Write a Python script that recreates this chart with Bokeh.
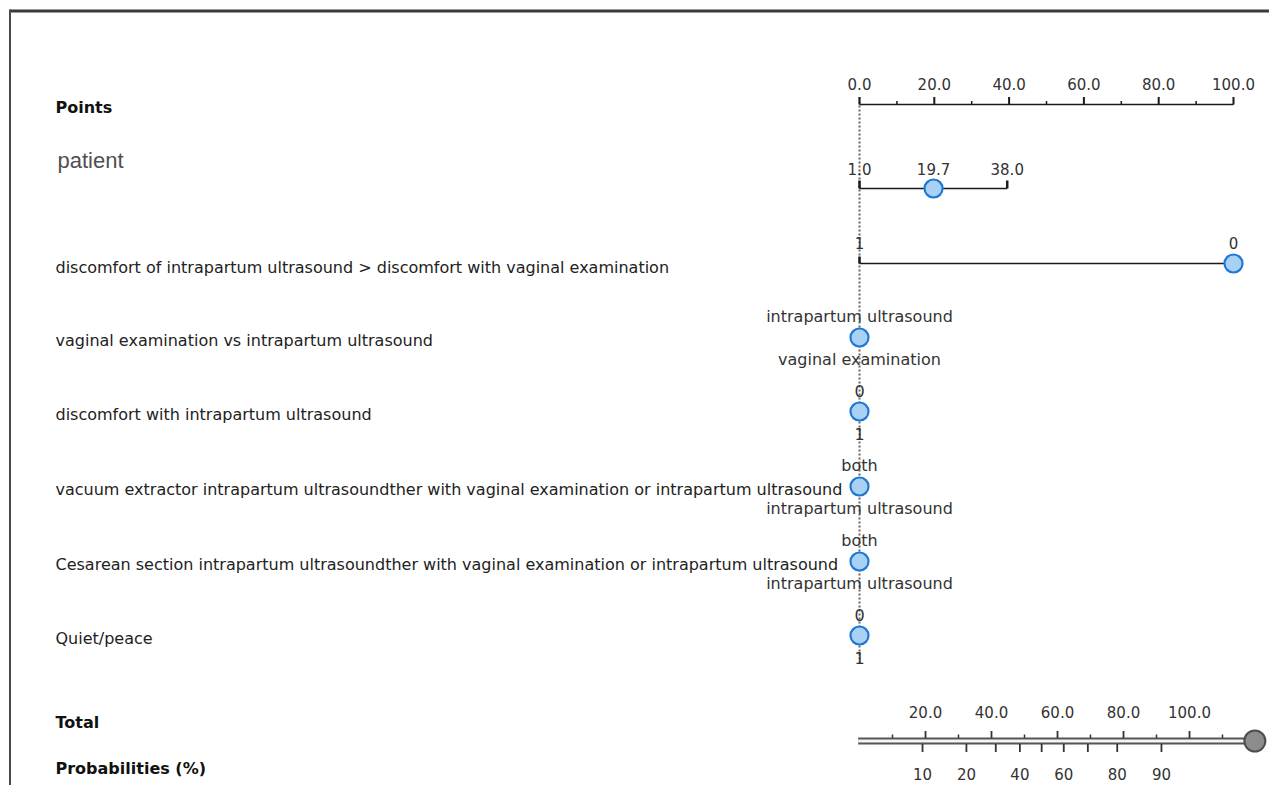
from bokeh.plotting import figure
from bokeh.models import Range1d
from bokeh.core.properties import value
from bokeh.embed import file_html
from bokeh.resources import INLINE

# ---------------- data ----------------
points_major = [0, 20, 40, 60, 80, 100]
points_major_labels = ["0.0", "20.0", "40.0", "60.0", "80.0", "100.0"]
points_minor = [10, 30, 50, 70, 90]

patient_name = "patient"
patient_tick_labels = ["1.0", "19.7", "38.0"]
patient_tick_points = [0.0, 19.8, 39.5]
patient_end_points = [0.0, 39.5]
patient_value_points = 19.8

disc_name = "discomfort of intrapartum ultrasound > discomfort with vaginal examination"
disc_levels = ["1", "0"]
disc_level_points = [0.0, 100.0]
disc_value_points = 100.0

cat_names = [
    "vaginal examination vs intrapartum ultrasound",
    "discomfort with intrapartum ultrasound",
    "vacuum extractor intrapartum ultrasoundther with vaginal examination or intrapartum ultrasound",
    "Cesarean section intrapartum ultrasoundther with vaginal examination or intrapartum ultrasound",
    "Quiet/peace",
]
cat_upper_labels = ["intrapartum ultrasound", "0", "both", "both", "0"]
cat_lower_labels = ["vaginal examination", "1", "intrapartum ultrasound", "intrapartum ultrasound", "1"]
cat_value_points = [0, 0, 0, 0, 0]

total_major = [20, 40, 60, 80, 100]
total_major_labels = ["20.0", "40.0", "60.0", "80.0", "100.0"]
total_minor = [10, 30, 50, 70, 90, 110]
prob_labels = ["10", "20", "", "40", "", "60", "", "80", "90"]
prob_total_points = [19.1, 32.4, 41.3, 48.6, 55.2, 61.9, 69.2, 78.1, 91.5]

# ---------------- layout ----------------
W, H = 1269, 785
X0 = 859.0          # px of 0 points
PX_PTS = 3.74       # px per point
PX_TOT = 3.3        # px per total point


def px(xpix):
    return (xpix - X0) / PX_PTS


Y_AXIS = 104
Y_PATIENT = 188
Y_DISC = 263
Y_CATS = [337, 411, 486, 561, 635]
Y_TOTAL = 740.5
LABEL_X = px(55)

FONT = value("DejaVu Sans")
LABEL_SIZE = "16px"
NUM_SIZE = "15px"
CIRCLE_FILL = "#a9d1f3"
CIRCLE_LINE = "#1f78d6"
CIRCLE_SIZE = 18

p = figure(width=W, height=H, output_backend="svg", toolbar_location=None,
           x_range=Range1d(px(0), px(W)), y_range=Range1d(H, 0),
           min_border=0, x_axis_location=None, y_axis_location=None,
           background_fill_color="white", border_fill_color="white",
           outline_line_color=None)
p.extra_x_ranges = {"total": Range1d(-X0 / PX_TOT, (W - X0) / PX_TOT)}
p.grid.visible = False

# frame border (top + left)
p.segment(x0=[px(9)], y0=[10.5], x1=[px(W)], y1=[10.5], line_color="#3a3a3a", line_width=3)
p.segment(x0=[px(9.5)], y0=[9], x1=[px(9.5)], y1=[H], line_color="#4a4a4a", line_width=2)

# vertical dotted reference line
p.segment(x0=[0], y0=[97], x1=[0], y1=[662], line_color="#666666", line_width=2, line_dash="2 2")

# ---- Points axis ----
p.segment(x0=[points_major[0]], y0=[Y_AXIS], x1=[points_major[-1]], y1=[Y_AXIS],
          line_color="#1a1a1a", line_width=1.6)
p.segment(x0=points_major, y0=[Y_AXIS] * len(points_major), x1=points_major,
          y1=[Y_AXIS - 7.5] * len(points_major), line_color="#1a1a1a", line_width=2)
p.segment(x0=points_minor, y0=[Y_AXIS] * len(points_minor), x1=points_minor,
          y1=[Y_AXIS - 3.5] * len(points_minor), line_color="#1a1a1a", line_width=1.5)
p.text(x=points_major, y=[Y_AXIS - 21] * len(points_major), text=points_major_labels,
       text_font=FONT, text_font_size=NUM_SIZE, text_color="#333333",
       text_align="center", text_baseline="middle")

# ---- left labels ----
p.text(x=[LABEL_X] * 3, y=[107, 722, 768], text=["Points", "Total", "Probabilities (%)"],
       text_font=FONT, text_font_size="16px", text_font_style="bold", text_color="#111111",
       text_align="left", text_baseline="middle")
p.text(x=[px(57)], y=[160], text=[patient_name], text_font=value("Liberation Sans"),
       text_font_size="22px", text_color="#505050", text_align="left", text_baseline="middle")
p.text(x=[LABEL_X] * (1 + len(cat_names)), y=[267] + [y + 3 for y in Y_CATS],
       text=[disc_name] + cat_names, text_font=FONT, text_font_size=LABEL_SIZE,
       text_color="#222222", text_align="left", text_baseline="middle")

# ---- patient row ----
p.segment(x0=[patient_end_points[0]], y0=[Y_PATIENT], x1=[patient_end_points[-1]], y1=[Y_PATIENT],
          line_color="#1a1a1a", line_width=1.6)
p.segment(x0=patient_end_points, y0=[Y_PATIENT] * 2, x1=patient_end_points, y1=[Y_PATIENT - 8] * 2,
          line_color="#1a1a1a", line_width=2.5)
p.text(x=patient_tick_points, y=[Y_PATIENT - 20] * 3, text=patient_tick_labels,
       text_font=FONT, text_font_size=NUM_SIZE, text_color="#333333",
       text_align="center", text_baseline="middle")
p.scatter(x=[patient_value_points], y=[Y_PATIENT], size=CIRCLE_SIZE, marker="circle",
          fill_color=CIRCLE_FILL, line_color=CIRCLE_LINE, line_width=2.2)

# ---- discomfort row ----
p.segment(x0=[disc_level_points[0]], y0=[Y_DISC], x1=[disc_level_points[-1]], y1=[Y_DISC],
          line_color="#1a1a1a", line_width=1.6)
p.segment(x0=[disc_level_points[0]], y0=[Y_DISC], x1=[disc_level_points[0]], y1=[Y_DISC - 7],
          line_color="#1a1a1a", line_width=2.5)
p.text(x=disc_level_points, y=[Y_DISC - 21] * 2, text=disc_levels,
       text_font=FONT, text_font_size=NUM_SIZE, text_color="#333333",
       text_align="center", text_baseline="middle")
p.scatter(x=[disc_value_points], y=[Y_DISC], size=CIRCLE_SIZE, marker="circle",
          fill_color=CIRCLE_FILL, line_color=CIRCLE_LINE, line_width=2.2)

# ---- categorical rows at zero points ----
p.text(x=cat_value_points, y=[y - 21 for y in Y_CATS], text=cat_upper_labels,
       text_font=FONT, text_font_size=LABEL_SIZE, text_color="#333333",
       text_align="center", text_baseline="middle")
p.text(x=cat_value_points, y=[y + 22 for y in Y_CATS], text=cat_lower_labels,
       text_font=FONT, text_font_size=LABEL_SIZE, text_color="#333333",
       text_align="center", text_baseline="middle")
p.scatter(x=cat_value_points, y=Y_CATS, size=CIRCLE_SIZE, marker="circle",
          fill_color=CIRCLE_FILL, line_color=CIRCLE_LINE, line_width=2.2)

# ---- total / probability axis ----
total_value = patient_value_points + disc_value_points + sum(cat_value_points)
p.segment(x0=[-0.4], y0=[Y_TOTAL], x1=[total_value], y1=[Y_TOTAL], x_range_name="total",
          line_color="#555555", line_width=7)
p.segment(x0=[-0.4], y0=[Y_TOTAL], x1=[total_value], y1=[Y_TOTAL], x_range_name="total",
          line_color="#f4f4f4", line_width=3)
p.segment(x0=total_major, y0=[Y_TOTAL - 3] * len(total_major), x1=total_major,
          y1=[Y_TOTAL - 10] * len(total_major), x_range_name="total",
          line_color="#333333", line_width=1.8)
p.segment(x0=total_minor, y0=[Y_TOTAL - 3] * len(total_minor), x1=total_minor,
          y1=[Y_TOTAL - 6.5] * len(total_minor), x_range_name="total",
          line_color="#333333", line_width=1.5)
p.text(x=total_major, y=[Y_TOTAL - 29] * len(total_major), text=total_major_labels,
       x_range_name="total", text_font=FONT, text_font_size=NUM_SIZE, text_color="#333333",
       text_align="center", text_baseline="middle")
p.segment(x0=prob_total_points, y0=[Y_TOTAL + 3] * len(prob_total_points), x1=prob_total_points,
          y1=[Y_TOTAL + 11] * len(prob_total_points), x_range_name="total",
          line_color="#333333", line_width=1.8)
p.text(x=prob_total_points, y=[Y_TOTAL + 33] * len(prob_total_points), text=prob_labels,
       x_range_name="total", text_font=FONT, text_font_size=NUM_SIZE, text_color="#333333",
       text_align="center", text_baseline="middle")
p.scatter(x=[total_value], y=[Y_TOTAL], x_range_name="total", size=21, marker="circle",
          fill_color="#8c8c8c", line_color="#4d4d4d", line_width=2)

open("out.html", "w").write(file_html(p, INLINE))
